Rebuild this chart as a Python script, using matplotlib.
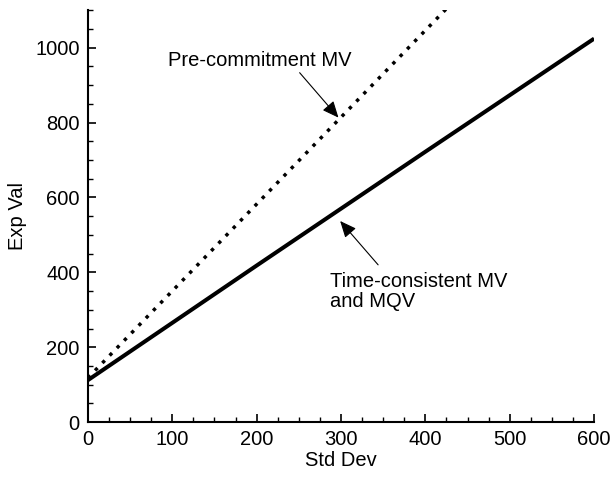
import matplotlib
matplotlib.use("Agg")
import matplotlib.pyplot as plt

plt.rcParams['font.family'] = ['Liberation Sans', 'DejaVu Sans']

# solid: time-consistent MV and MQV
tc_std = [0, 100, 200, 300, 400, 500, 600]
tc_exp = [112, 265, 418, 570, 722, 873, 1024]

# dotted: pre-commitment MV
pc_std = [0, 100, 200, 300, 400, 425]
pc_exp = [118, 350, 582, 814, 1046, 1104]

fs = 14.5

fig = plt.figure(figsize=(6.1, 4.83), dpi=100)
ax = fig.add_axes([0.144, 0.126, 0.830, 0.853])

ax.plot(tc_std, tc_exp, color='black', lw=2.9, solid_capstyle='butt')
ax.plot(pc_std, pc_exp, color='black', lw=2.5, linestyle=(0, (1, 2.0)))

ax.set_xlim(0, 600)
ax.set_ylim(0, 1100)
ax.set_xticks([0, 100, 200, 300, 400, 500, 600])
ax.set_yticks([0, 200, 400, 600, 800, 1000])
ax.set_xticks(range(0, 601, 25), minor=True)
ax.set_yticks(range(0, 1101, 50), minor=True)

ax.spines['top'].set_visible(False)
ax.spines['right'].set_visible(False)
for s in ['left', 'bottom']:
    ax.spines[s].set_linewidth(1.5)
ax.tick_params(which='major', direction='in', length=6, width=1.2, labelsize=fs, pad=6)
ax.tick_params(which='minor', direction='in', length=3.5, width=1.0)

ax.set_xlabel('Std Dev', fontsize=fs, labelpad=1)
ax.set_ylabel('Exp Val', fontsize=fs, labelpad=6)

arrow = dict(arrowstyle='-|>,head_length=0.5,head_width=0.22', color='black', lw=0.8,
             mutation_scale=20, shrinkA=0, shrinkB=0)

ax.text(204, 965, 'Pre-commitment MV', ha='center', va='center', fontsize=fs)
ax.annotate('', xy=(297, 813), xytext=(251, 933), arrowprops=arrow)

ax.text(287, 400, 'Time-consistent MV\nand MQV', ha='left', va='top', fontsize=fs, linespacing=1.05)
ax.annotate('', xy=(299, 537), xytext=(344, 420), arrowprops=arrow)

fig.savefig('out.png', dpi=100)
